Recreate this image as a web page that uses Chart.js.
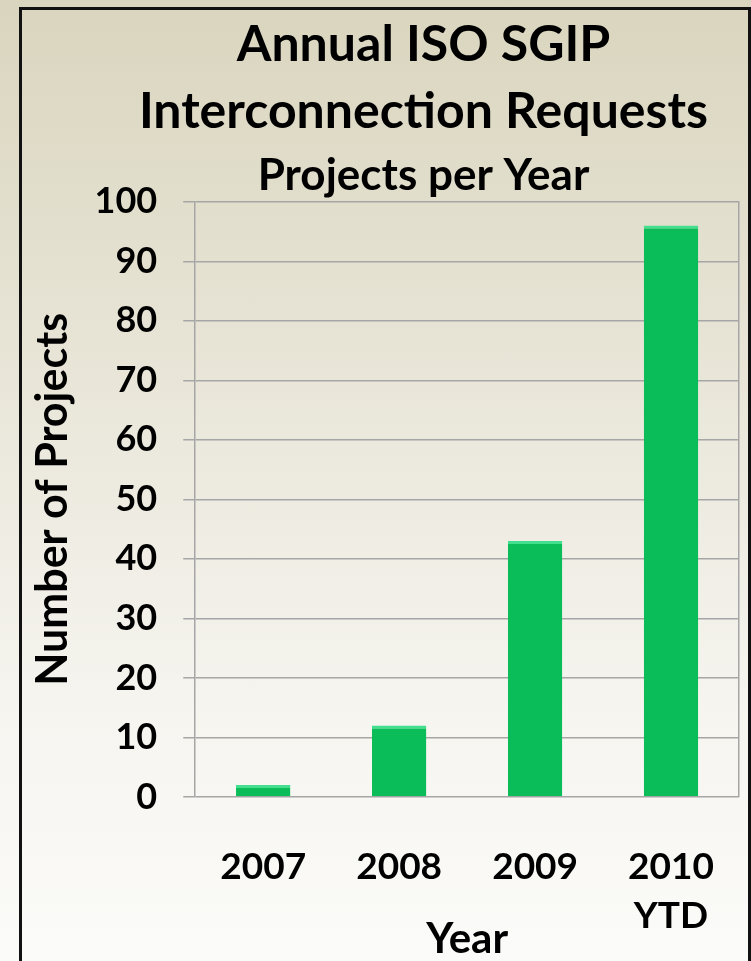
<!DOCTYPE html>
<html>
<head>
<meta charset="utf-8">
<script src="https://cdn.jsdelivr.net/npm/chart.js@4.4.0/dist/chart.umd.min.js"></script>
<style>
  html, body { margin: 0; padding: 0; width: 751px; height: 961px; overflow: hidden; }
  body { background: linear-gradient(to bottom, #d9d5be 0%, #e9e6d9 40%, #f6f5f0 75%, #fbfbf9 100%); position: relative; }
  #frame { position: absolute; left: 19px; top: 7px; width: 726px; height: 1000px; border: 3px solid #111; pointer-events: none; z-index: 2; }
  #wrap { position: absolute; left: 22px; top: 10px; width: 798px; height: 951px; }
</style>
</head>
<body>
<div id="frame"></div>
<div id="wrap"><canvas id="projectsChart"></canvas></div>
<script>
// Annual ISO SGIP interconnection requests
const years = [['2007'], ['2008'], ['2009'], ['2010', 'YTD']];
const projects = [2, 12, 43, 96];
const yMin = 0;
const yMax = 100;
const yStep = 10;

Chart.defaults.font.family = 'Lato, "Open Sans", sans-serif';
Chart.defaults.font.weight = 'bold';
Chart.defaults.color = '#000';

const gridColor = '#a6a6a6';

const ctx = document.getElementById('projectsChart').getContext('2d');
const projectsChart = new Chart(ctx, {
    type: 'bar',
    data: {
        labels: years,
        datasets: [{
            label: 'Projects',
            data: projects,
            backgroundColor: '#0abd58',
            borderColor: '#44de8f',
            borderWidth: { top: 3, left: 0, right: 0, bottom: 0 },
            borderSkipped: false,
            categoryPercentage: 1.0,
            barPercentage: 0.4
        }]
    },
    options: {
        responsive: true,
        maintainAspectRatio: false,
        animation: false,
        // the extra width of y2 (right) keeps the titles centred like the original
        layout: { padding: { left: 5, right: 0, top: 0, bottom: 0 } },
        plugins: {
            legend: { display: false },
            tooltip: { enabled: false },
            title: {
                display: true,
                text: ['Annual ISO SGIP', 'Interconnection Requests'],
                font: { size: 50, weight: 'bold', lineHeight: 1.34 },
                padding: { top: 1, bottom: 0 }
            },
            subtitle: {
                display: true,
                text: 'Projects per Year',
                color: '#000',
                font: { size: 44, weight: 'bold', lineHeight: 1.2 },
                padding: { top: 4, bottom: 0 }
            }
        },
        scales: {
            x: {
                grid: { display: false, drawTicks: false },
                border: { display: false },
                ticks: { font: { size: 37, lineHeight: 1.32 }, padding: 46 },
                title: {
                    display: true,
                    text: 'Year',
                    font: { size: 42 },
                    padding: { top: -72, bottom: -4 }
                }
            },
            y: {
                min: yMin,
                max: yMax,
                ticks: { stepSize: yStep, font: { size: 36 }, padding: 26 },
                grid: { color: gridColor, lineWidth: 1.5, tickLength: 12 },
                border: { color: gridColor, width: 1.5 },
                title: {
                    display: true,
                    text: 'Number of Projects',
                    font: { size: 43 },
                    padding: { top: 0, bottom: -10 }
                }
            },
            y2: {
                position: 'right',
                min: yMin,
                max: yMax,
                ticks: { display: false },
                grid: { display: false },
                border: { color: gridColor, width: 1.5 },
                afterFit: (scale) => { scale.width = 81; }
            }
        }
    }
});
</script>
</body>
</html>
